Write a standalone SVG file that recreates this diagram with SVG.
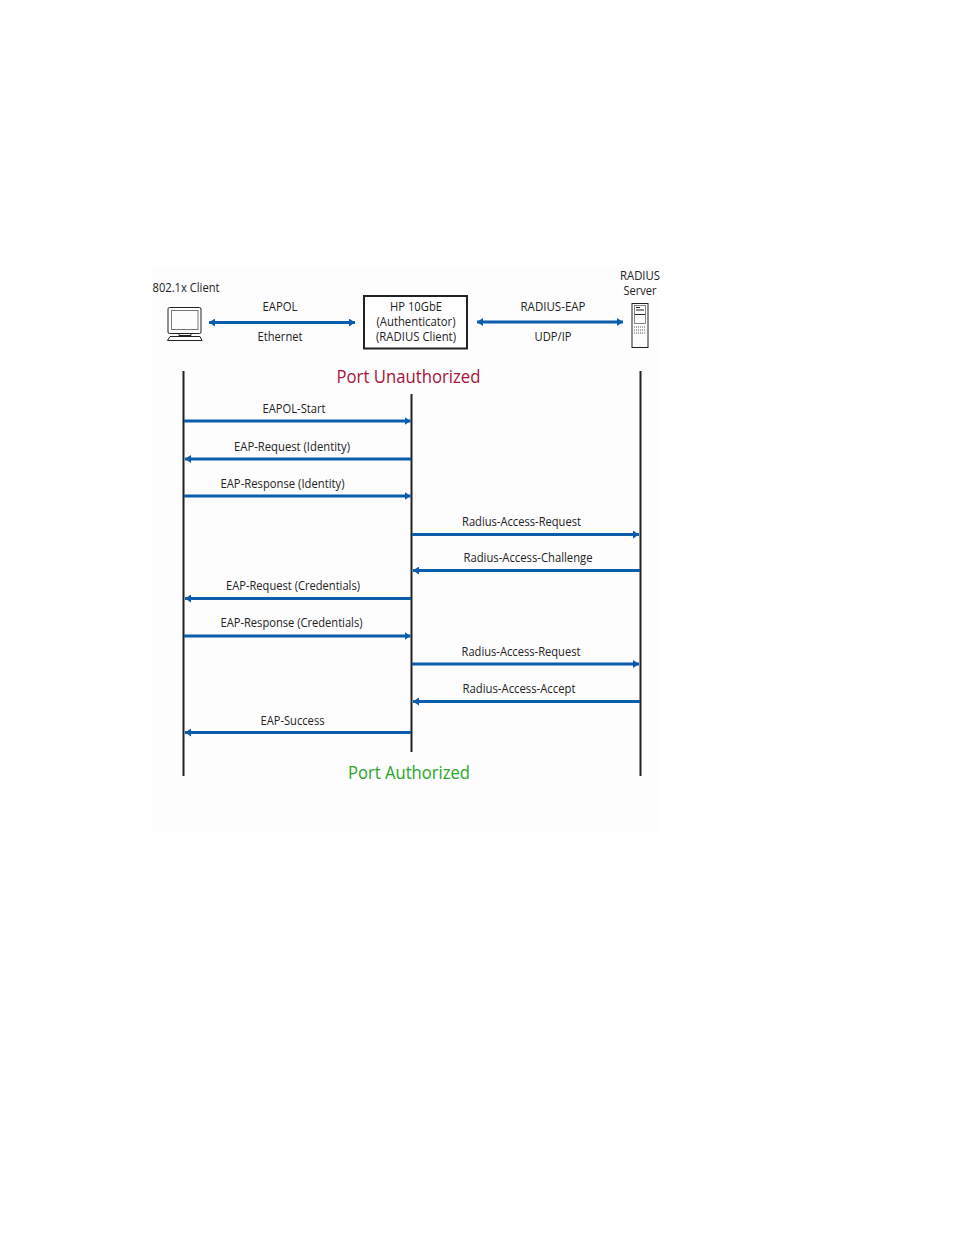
<svg xmlns="http://www.w3.org/2000/svg" width="954" height="1235" viewBox="0 0 954 1235">
<style>
text{font-family:"Open Sans","Noto Sans","Liberation Sans",sans-serif;font-size:12px;fill:#222;text-anchor:middle}
.big{font-size:18px}
.life{stroke:#222;stroke-width:2;fill:none}
.msg{stroke:#0b5cad;stroke-width:3;fill:none}
.ic{fill:none;stroke:#222;stroke-width:1}
</style>
<defs>
<marker id="a" markerUnits="userSpaceOnUse" markerWidth="7" markerHeight="8" refX="6" refY="4" orient="auto-start-reverse"><path d="M0 0L6 4L0 8Z" fill="#0b5cad"/></marker>
</defs>
<rect width="954" height="1235" fill="#fff"/>
<rect x="152" y="267" width="508" height="566" fill="#fdfdfd"/>
<g id="client">
<text x="186" y="291.500" textLength="67" lengthAdjust="spacingAndGlyphs">802.1x Client</text>
<rect class="ic" x="168" y="307.500" width="33" height="26" rx="1.500" stroke-width="1.300"/>
<rect x="171.500" y="310.500" width="26.500" height="19" fill="none" stroke="#777" stroke-width="1"/>
<path class="ic" d="M179 333.500V335.500H191V333.500M170 336.500H200L202 340.500H167.500Z"/>
</g>
<g id="authenticator">
<rect x="364" y="296" width="103" height="52.500" fill="#fff" stroke="#222" stroke-width="2"/>
<text x="416" y="311" textLength="52" lengthAdjust="spacingAndGlyphs">HP 10GbE</text>
<text x="416" y="326" textLength="79" lengthAdjust="spacingAndGlyphs">(Authenticator)</text>
<text x="416" y="341" textLength="80" lengthAdjust="spacingAndGlyphs">(RADIUS Client)</text>
</g>
<g id="server">
<text x="640" y="279.500" textLength="40" lengthAdjust="spacingAndGlyphs">RADIUS</text>
<text x="640" y="294.500" textLength="33" lengthAdjust="spacingAndGlyphs">Server</text>
<rect class="ic" x="632" y="303.500" width="16" height="44" stroke-width="1.300"/>
<rect x="634.500" y="305.500" width="11" height="18" fill="none" stroke="#666" stroke-width=".8"/>
<path d="M636 307.500H640M636 310H644M635 314.500H645" stroke="#222" stroke-width="1.200" fill="none"/>
<path d="M634 327H646M634 330H646M634 333H646" stroke="#555" stroke-width="1" stroke-dasharray="1 1" fill="none"/>
</g>
<g id="connectors">
<path class="life" d="M183.500 371V776M411.500 394V752M640.500 371V776"/>
<path class="msg" d="M209 322.500H355" marker-start="url(#a)" marker-end="url(#a)"/>
<path class="msg" d="M477 322H623" marker-start="url(#a)" marker-end="url(#a)"/>
<path class="msg" d="M184 421H410.500" marker-end="url(#a)"/>
<path class="msg" d="M411 459H185" marker-end="url(#a)"/>
<path class="msg" d="M184 496H410.500" marker-end="url(#a)"/>
<path class="msg" d="M412 534.500H639" marker-end="url(#a)"/>
<path class="msg" d="M640 570.500H413" marker-end="url(#a)"/>
<path class="msg" d="M411 598.500H185" marker-end="url(#a)"/>
<path class="msg" d="M184 636H410.500" marker-end="url(#a)"/>
<path class="msg" d="M412 664H639" marker-end="url(#a)"/>
<path class="msg" d="M640 701.500H413" marker-end="url(#a)"/>
<path class="msg" d="M411 732.500H185" marker-end="url(#a)"/>
</g>
<g id="labels">
<text x="280" y="311" textLength="35" lengthAdjust="spacingAndGlyphs">EAPOL</text>
<text x="280" y="341" textLength="45" lengthAdjust="spacingAndGlyphs">Ethernet</text>
<text x="553" y="311" textLength="65" lengthAdjust="spacingAndGlyphs">RADIUS-EAP</text>
<text x="553" y="341" textLength="37" lengthAdjust="spacingAndGlyphs">UDP/IP</text>
<text class="big" x="408.500" y="383" textLength="144" lengthAdjust="spacingAndGlyphs" style="fill:#a8123a">Port Unauthorized</text>
<text x="294" y="412.500" textLength="63" lengthAdjust="spacingAndGlyphs">EAPOL-Start</text>
<text x="292" y="450.500" textLength="116" lengthAdjust="spacingAndGlyphs">EAP-Request (Identity)</text>
<text x="282.500" y="487.500" textLength="124" lengthAdjust="spacingAndGlyphs">EAP-Response (Identity)</text>
<text x="521.500" y="525.500" textLength="119" lengthAdjust="spacingAndGlyphs">Radius-Access-Request</text>
<text x="528" y="562" textLength="129" lengthAdjust="spacingAndGlyphs">Radius-Access-Challenge</text>
<text x="293" y="590" textLength="134" lengthAdjust="spacingAndGlyphs">EAP-Request (Credentials)</text>
<text x="291.500" y="627" textLength="142" lengthAdjust="spacingAndGlyphs">EAP-Response (Credentials)</text>
<text x="521" y="655.500" textLength="119" lengthAdjust="spacingAndGlyphs">Radius-Access-Request</text>
<text x="519" y="692.500" textLength="113" lengthAdjust="spacingAndGlyphs">Radius-Access-Accept</text>
<text x="292.500" y="724.500" textLength="64" lengthAdjust="spacingAndGlyphs">EAP-Success</text>
<text class="big" x="409" y="779" textLength="122" lengthAdjust="spacingAndGlyphs" style="fill:#2aa52a">Port Authorized</text>
</g>
</svg>
